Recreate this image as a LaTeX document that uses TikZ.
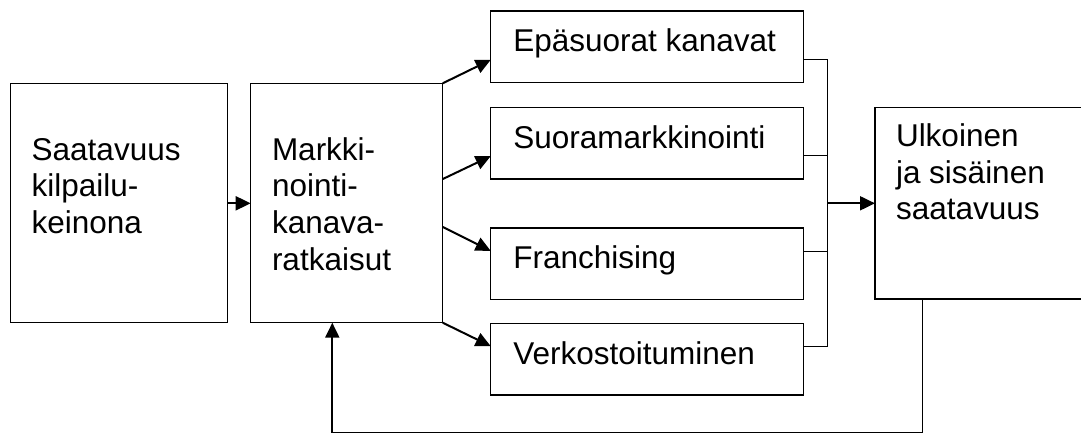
\documentclass[tikz,border=0pt]{standalone}
\usepackage{fontspec}
\setmainfont{Liberation Sans}
\usetikzlibrary{arrows.meta,calc}

\tikzset{
  box/.style={draw, line width=1.3pt, inner sep=0pt, outer sep=0pt, anchor=north west},
  boxtext/.style={anchor=north west, inner sep=0pt, outer sep=0pt, align=left,
    font=\fontsize{31.5}{36.7}\selectfont},
  flow/.style={line width=2pt, -{Triangle[length=15pt,width=14pt]}},
  busline/.style={line width=1pt},
  backline/.style={line width=1.3pt},
}
% first-line strut so every text block is placed by its first baseline
\newcommand{\fl}{\rule{0pt}{25pt}}

\begin{document}
\begin{tikzpicture}[x=1pt,y=-1pt]
\useasboundingbox (0,0) rectangle (1081,434);
\fill[white] (0,0) rectangle (1081,434);
\clip (0,0) rectangle (1081,434);

% main boxes
\node[box, minimum width=217pt, minimum height=239.4pt] (b1) at (10.7,83.3) {};
\node[box, minimum width=192pt, minimum height=239.4pt] (b2) at (250.7,83.3) {};
\node[box, minimum width=312.6pt, minimum height=71.7pt] (c1) at (490.7,11) {};
\node[box, minimum width=312.6pt, minimum height=71.7pt] (c2) at (490.7,107.3) {};
\node[box, minimum width=312.6pt, minimum height=71.7pt] (c3) at (490.7,228) {};
\node[box, minimum width=312.6pt, minimum height=71.7pt] (c4) at (490.7,323.3) {};
\node[box, minimum width=230pt, minimum height=191.7pt] (u) at (875,107.3) {};

% texts
\node[boxtext] (t1) at (31.7,135) {\fl Saatavuus\\kilpailu-\\keinona};
\node[boxtext] (t2) at (272,135) {\fl Markki-\\nointi-\\kanava-\\ratkaisut};
\node[boxtext] (tc1) at (513.3,26.7) {\fl Epäsuorat kanavat};
\node[boxtext] (tc2) at (513.3,123) {\fl Suoramarkkinointi};
\node[boxtext] (tc3) at (513.3,243.3) {\fl Franchising};
\node[boxtext] (tc4) at (513.3,339) {\fl Verkostoituminen};
\node[boxtext, font=\fontsize{31.5}{36.3}\selectfont] (tu) at (896,121.7) {\fl Ulkoinen\\ja sisäinen\\saatavuus};

% b1 -> b2
\draw[flow] (b1.east |- 0,203.3) -- (b2.west |- 0,203.3);

% b2 -> channel boxes
\draw[flow] (b2.north east) -- ([yshift=-13pt]c1.west);
\draw[flow] ($(b2.north east)!0.4!(b2.south east)$) -- ([yshift=-13pt]c2.west);
\draw[flow] ($(b2.north east)!0.6!(b2.south east)$) -- ([yshift=13pt]c3.west);
\draw[flow] (b2.south east) -- ([yshift=13pt]c4.west);

% collector
\coordinate (bus) at (827.3,203.3);
\draw[busline] ([yshift=-12.5pt]c1.east) -| (bus);
\draw[busline] ([yshift=-12.5pt]c2.east) -| (bus);
\draw[busline] ([yshift=12.5pt]c3.east) -| (bus);
\draw[busline] ([yshift=12.5pt]c4.east) -| (bus);
\draw[flow] (bus) -- (u.west |- bus);

% feedback loop
\coordinate (fbr) at (922.7,432.7);
\coordinate (fbl) at (332.3,432.7);
\draw[backline] (u.south west -| fbr) -- (fbr) -- (fbl);
\draw[flow] (fbl) -- (b2.south west -| fbl);
\end{tikzpicture}
\end{document}
